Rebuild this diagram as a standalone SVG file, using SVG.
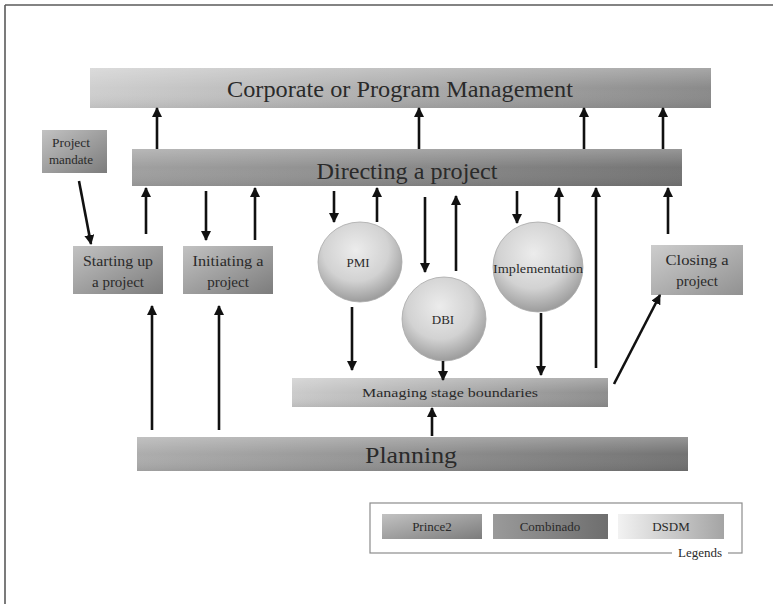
<svg xmlns="http://www.w3.org/2000/svg" width="773" height="604" viewBox="0 0 773 604">
<style>
text{font-family:"Liberation Serif","Times New Roman",serif;fill:#2a2a2a;text-anchor:middle}
.big{font-size:23px}
.mid{font-size:15px}
.sm{font-size:13px}
.conn line{stroke:#111;stroke-width:2.6;marker-end:url(#ah)}
.frame{stroke:#5a5a5a;stroke-width:1.6}
</style>
<defs>
<marker id="ah" markerWidth="10" markerHeight="10" refX="9" refY="5" orient="auto" markerUnits="userSpaceOnUse"><path d="M0,0 L10,5 L0,10 z" fill="#111"/></marker>
<linearGradient id="gCorp" x1="0" y1="0" x2="1" y2="0"><stop offset="0" stop-color="#cfcfcf"/><stop offset="1" stop-color="#8a8a8a"/></linearGradient>
<linearGradient id="gDir" x1="0" y1="0" x2="1" y2="0"><stop offset="0" stop-color="#a0a0a0"/><stop offset="1" stop-color="#747474"/></linearGradient>
<linearGradient id="gPr" x1="0" y1="0" x2="1" y2="1"><stop offset="0" stop-color="#c2c2c2"/><stop offset="1" stop-color="#7c7c7c"/></linearGradient>
<linearGradient id="gPlan" x1="0" y1="0" x2="1" y2="0"><stop offset="0" stop-color="#adadad"/><stop offset="1" stop-color="#737373"/></linearGradient>
<linearGradient id="gMan" x1="0" y1="0" x2="1" y2="0"><stop offset="0" stop-color="#cbcbcb"/><stop offset="1" stop-color="#8e8e8e"/></linearGradient>
<linearGradient id="gClose" x1="0" y1="0" x2="1" y2="1"><stop offset="0" stop-color="#cdcdcd"/><stop offset="1" stop-color="#919191"/></linearGradient>
<linearGradient id="gComb" x1="0" y1="0" x2="1" y2="0"><stop offset="0" stop-color="#9a9a9a"/><stop offset="1" stop-color="#6e6e6e"/></linearGradient>
<linearGradient id="gDs" x1="0" y1="0" x2="1" y2="0"><stop offset="0" stop-color="#f2f2f2"/><stop offset="1" stop-color="#a4a4a4"/></linearGradient>
<linearGradient id="gShine" x1="0" y1="0" x2="0" y2="1"><stop offset="0" stop-color="#fff" stop-opacity="0.25"/><stop offset="0.5" stop-color="#fff" stop-opacity="0"/><stop offset="1" stop-color="#000" stop-opacity="0.08"/></linearGradient>
<radialGradient id="gBall" cx="0.45" cy="0.35" r="0.65"><stop offset="0" stop-color="#ececec"/><stop offset="0.6" stop-color="#d2d2d2"/><stop offset="1" stop-color="#9c9c9c"/></radialGradient>
</defs>
<rect width="773" height="604" fill="#fff"/>
<line class="frame" x1="5" y1="5" x2="773" y2="5"/>
<line class="frame" x1="5" y1="5" x2="5" y2="604"/>

<g id="corporate">
<rect x="90" y="68" width="621" height="40" fill="url(#gCorp)"/>
<rect x="90" y="68" width="621" height="40" fill="url(#gShine)"/>
<text class="big" x="400" y="97" textLength="346" lengthAdjust="spacingAndGlyphs">Corporate or Program Management</text>
</g>
<g id="directing">
<rect x="132" y="149" width="550" height="37" fill="url(#gDir)"/>
<rect x="132" y="149" width="550" height="37" fill="url(#gShine)"/>
<text class="big" x="407" y="179" textLength="181" lengthAdjust="spacingAndGlyphs">Directing a project</text>
</g>
<g id="mandate">
<rect x="42" y="130" width="65" height="43" fill="url(#gPr)"/>
<text class="sm" x="71" y="147" textLength="38" lengthAdjust="spacingAndGlyphs">Project</text>
<text class="sm" x="71" y="164">mandate</text>
</g>
<g id="starting">
<rect x="73" y="246" width="90" height="48" fill="url(#gPr)"/>
<text class="mid" x="118" y="266" textLength="70" lengthAdjust="spacingAndGlyphs">Starting up</text>
<text class="mid" x="118" y="287">a project</text>
</g>
<g id="initiating">
<rect x="183" y="246" width="90" height="48" fill="url(#gPr)"/>
<text class="mid" x="228" y="266" textLength="71" lengthAdjust="spacingAndGlyphs">Initiating a</text>
<text class="mid" x="228" y="287">project</text>
</g>
<g id="pmi">
<ellipse cx="360" cy="262" rx="42" ry="40" fill="url(#gBall)" stroke="#a8a8a8" stroke-width="0.8"/>
<text class="sm" x="358" y="267">PMI</text>
</g>
<g id="dbi">
<ellipse cx="444" cy="319" rx="42" ry="42" fill="url(#gBall)" stroke="#a8a8a8" stroke-width="0.8"/>
<text class="sm" x="443" y="324">DBI</text>
</g>
<g id="implementation">
<ellipse cx="538" cy="267" rx="45" ry="45" fill="url(#gBall)" stroke="#a8a8a8" stroke-width="0.8"/>
<text class="sm" x="538" y="273" textLength="90" lengthAdjust="spacingAndGlyphs">Implementation</text>
</g>
<g id="closing">
<rect x="651" y="245" width="92" height="50" fill="url(#gClose)"/>
<text class="mid" x="697" y="265" textLength="63" lengthAdjust="spacingAndGlyphs">Closing a</text>
<text class="mid" x="697" y="286">project</text>
</g>
<g id="managing">
<rect x="292" y="378" width="316" height="29" fill="url(#gMan)"/>
<rect x="292" y="378" width="316" height="29" fill="url(#gShine)"/>
<text class="sm" x="450" y="397" textLength="176" lengthAdjust="spacingAndGlyphs">Managing stage boundaries</text>
</g>
<g id="planning">
<rect x="137" y="437" width="551" height="34" fill="url(#gPlan)"/>
<rect x="137" y="437" width="551" height="34" fill="url(#gShine)"/>
<text class="big" x="411" y="463" font-size="25" textLength="92" lengthAdjust="spacingAndGlyphs">Planning</text>
</g>

<g id="connectors" class="conn">
<line x1="157" y1="149" x2="157" y2="108"/>
<line x1="419" y1="149" x2="419" y2="108"/>
<line x1="584" y1="149" x2="584" y2="108"/>
<line x1="663" y1="149" x2="663" y2="108"/>
<line x1="79" y1="181" x2="91" y2="244"/>
<line x1="146" y1="234" x2="146" y2="188"/>
<line x1="206" y1="191" x2="206" y2="240"/>
<line x1="255" y1="240" x2="255" y2="188"/>
<line x1="334" y1="191" x2="334" y2="222"/>
<line x1="377" y1="222" x2="377" y2="188"/>
<line x1="425" y1="197" x2="425" y2="272"/>
<line x1="456" y1="271" x2="456" y2="196"/>
<line x1="517" y1="191" x2="517" y2="223"/>
<line x1="559" y1="222" x2="559" y2="188"/>
<line x1="596" y1="368" x2="596" y2="188"/>
<line x1="668" y1="234" x2="668" y2="188"/>
<line x1="352" y1="307" x2="352" y2="370"/>
<line x1="443" y1="361" x2="443" y2="380"/>
<line x1="541" y1="313" x2="541" y2="375"/>
<line x1="614" y1="384" x2="660" y2="295"/>
<line x1="152" y1="430" x2="152" y2="306"/>
<line x1="219" y1="430" x2="219" y2="306"/>
<line x1="432" y1="436" x2="432" y2="408"/>
</g>

<g id="legend">
<rect x="370" y="503" width="372" height="50" fill="none" stroke="#8c8c8c" stroke-width="1.2"/>
<rect x="672" y="546" width="56" height="14" fill="#fff"/>
<text class="sm" x="700" y="557">Legends</text>
<rect x="382" y="514" width="100" height="25" fill="url(#gPr)"/>
<text class="sm" x="432" y="531">Prince2</text>
<rect x="493" y="514" width="115" height="25" fill="url(#gComb)"/>
<text class="sm" x="550" y="531">Combinado</text>
<rect x="618" y="514" width="106" height="25" fill="url(#gDs)"/>
<text class="sm" x="671" y="531">DSDM</text>
</g>
</svg>
